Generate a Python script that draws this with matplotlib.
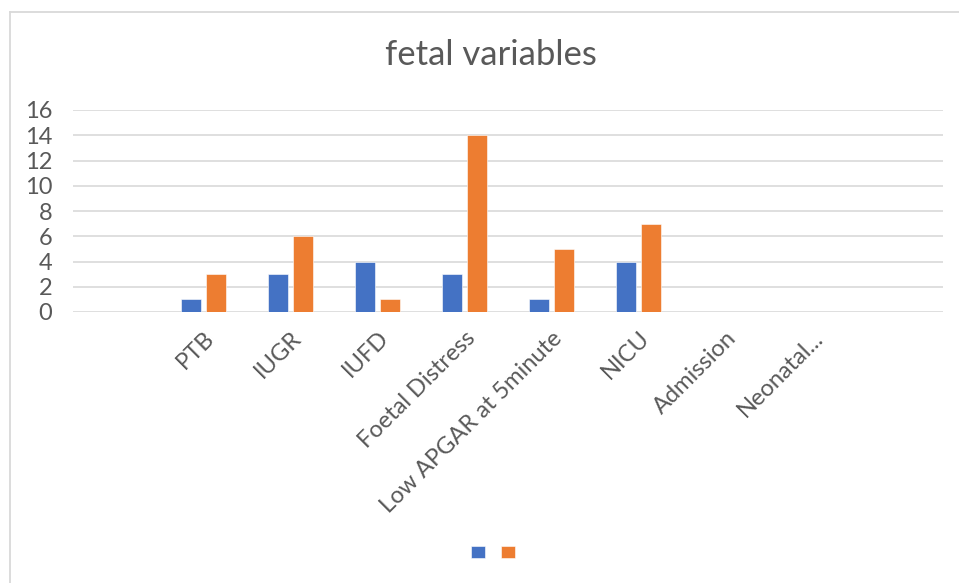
import matplotlib
matplotlib.use("Agg")
import matplotlib.pyplot as plt
from matplotlib.lines import Line2D
import numpy as np

plt.rcParams['font.family'] = ['Lato', 'DejaVu Sans']

# data (first and last category have no label and no bars)
categories = ['', 'PTB', 'IUGR', 'IUFD', 'Foetal Distress', 'Low APGAR at 5minute',
              'NICU', 'Admission', 'Neonatal...', '']
series_blue = [np.nan, 1, 3, 4, 3, 1, 4, np.nan, np.nan, np.nan]
series_orange = [np.nan, 3, 6, 1, 14, 5, 7, np.nan, np.nan, np.nan]
y_ticks = [0, 2, 4, 6, 8, 10, 12, 14, 16]

blue = '#4472C4'
orange = '#ED7D31'
grid_c = '#D9D9D9'
text_c = '#595959'

fig = plt.figure(figsize=(9.59, 5.83), dpi=100)
ax = fig.add_axes([73/959, 1 - 312/583, 870/959, 202/583])

x = np.arange(len(categories))
w = 0.23
b1 = ax.bar(x - 0.145, series_blue, width=w, color=blue, edgecolor='white', linewidth=0.4, zorder=3)
b2 = ax.bar(x + 0.145, series_orange, width=w, color=orange, edgecolor='white', linewidth=0.4, zorder=3)

ax.set_xlim(-0.5, len(categories) - 0.5)
ax.set_ylim(0, 16)
ax.set_yticks(y_ticks)
ax.set_yticklabels([str(v) for v in y_ticks])
ax.set_xticks(x)
ax.set_xticklabels(categories, rotation=45, ha='right', va='top', rotation_mode='anchor')

for s in ax.spines.values():
    s.set_visible(False)
ax.yaxis.grid(True, color=grid_c, linewidth=1.2, zorder=0)
ax.set_axisbelow(True)
ax.tick_params(axis='y', length=0, pad=15, labelsize=17, labelcolor=text_c)
ax.tick_params(axis='x', length=0, pad=11, labelsize=17, labelcolor=text_c)

fig.text(491/959, 1 - 55/583, 'fetal variables', ha='center', va='center',
         fontsize=25, color=text_c)

fig.legend([b1, b2], ['', ''], loc='center', bbox_to_anchor=(493/959, 1 - 552/583),
           ncol=2, frameon=False, handlelength=1.0, handleheight=1.0,
           handletextpad=0, columnspacing=1.15, fontsize=10)

# chart area border (only top and left visible)
fig.add_artist(Line2D([9.5/959, 9.5/959], [0, 1 - 12/583], color=grid_c, linewidth=1.3,
                      transform=fig.transFigure))
fig.add_artist(Line2D([9.5/959, 1], [1 - 12/583, 1 - 12/583], color=grid_c, linewidth=1.3,
                      transform=fig.transFigure))

fig.savefig('out.png', dpi=100, facecolor='white')
